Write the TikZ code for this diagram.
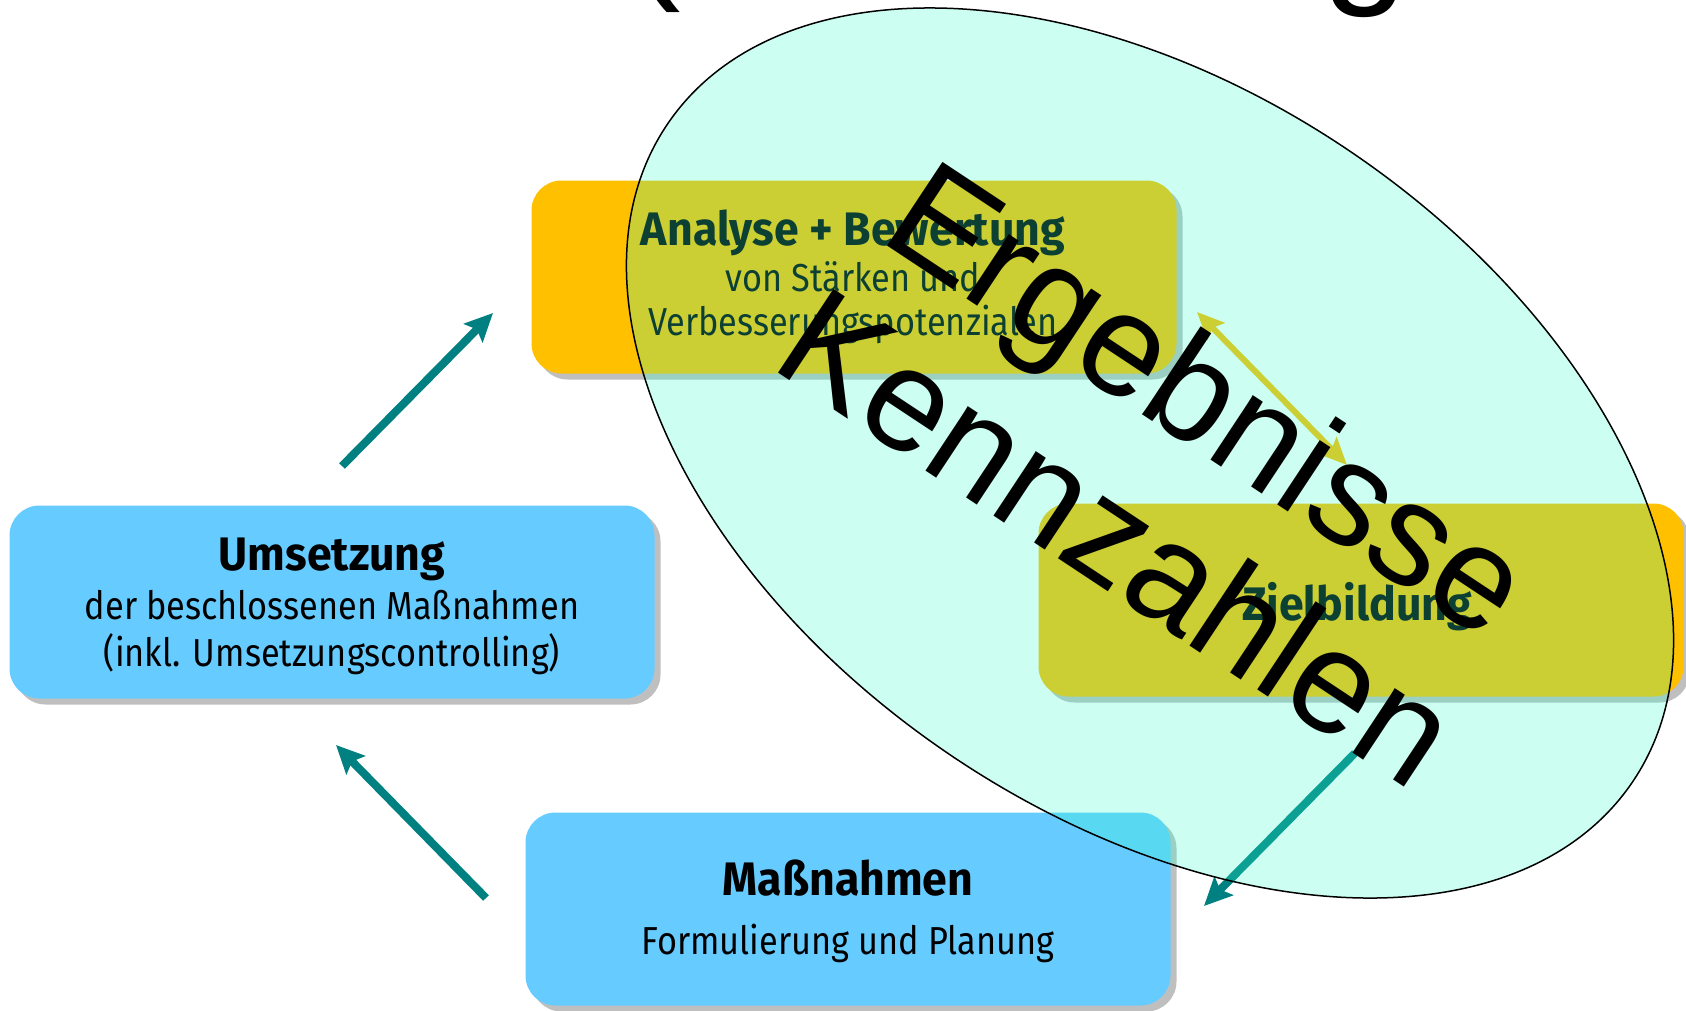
\documentclass[tikz,border=0pt]{standalone}
\usepackage{fontspec}
\setmainfont{Liberation Sans}
\newfontfamily\boxfont{Fira Sans}[FakeStretch=0.88]
\newfontfamily\boxbold{Fira Sans}[FakeStretch=0.95]
\usetikzlibrary{arrows.meta,shadows}
\definecolor{boxblue}{HTML}{66CCFF}
\definecolor{boxorange}{HTML}{FFC000}
\definecolor{arrowteal}{HTML}{008080}
\definecolor{ovalfill}{HTML}{33FFCC}
\definecolor{shadowgray}{HTML}{BFBFBF}
\tikzset{
  stepbox/.style={rectangle, rounded corners=30pt, minimum width=645pt, minimum height=193pt, inner sep=0pt,
    drop shadow={shadow xshift=6pt, shadow yshift=-6pt, fill=shadowgray, opacity=1}},
  bluebox/.style={stepbox, fill=boxblue},
  orangebox/.style={stepbox, fill=boxorange},
  headtext/.style={anchor=base, inner sep=0pt, font=\boxbold\bfseries\fontsize{47}{50}\selectfont},
  subtext/.style={anchor=base, inner sep=0pt, font=\boxfont\fontsize{39}{42}\selectfont},
  flowarrow/.style={draw=arrowteal, line width=8pt, -{Stealth[length=28pt,width=26pt,inset=5pt]}},
  linkarrow/.style={draw=boxorange, line width=6pt, {Stealth[length=27pt,width=24pt,inset=5pt]}-{Stealth[length=27pt,width=24pt,inset=5pt]}},
  titletext/.style={inner sep=0pt, font=\fontsize{155}{177}\selectfont},
  bigtext/.style={inner sep=0pt, font=\fontsize{146}{166}\selectfont}
}
\begin{document}
\begin{tikzpicture}[x=1pt,y=-1pt]
\useasboundingbox (0,0) rectangle (1686,1010);
% top fragments of a cut-off title
\node[titletext, anchor=base east] (frag1) at (681,-20) {(};
\node[titletext, anchor=base west] (frag2) at (1322,-15) {g};
% boxes
\node[orangebox] (analyse) at (854,277) {};
\node[bluebox] (umsetzung) at (332,602) {};
\node[orangebox] (ziel) at (1361,600) {};
\node[bluebox] (massnahmen) at (848,909) {};
% texts
\node[headtext] (t1) at (853,245) {Analyse + Bewertung};
\node[subtext] (t2) at (853,291) {von Stärken und};
\node[subtext] (t3) at (853,335) {Verbesserungspotenzialen};
\node[headtext] (t4) at (332,570) {Umsetzung};
\node[subtext] (t5) at (332,619) {der beschlossenen Maßnahmen};
\node[subtext] (t6) at (332,666) {(inkl. Umsetzungscontrolling)};
\node[headtext] (t7) at (1357,620) {Zielbildung};
\node[headtext] (t8) at (848,895) {Maßnahmen};
\node[subtext] (t9) at (848,954) {Formulierung und Planung};
% arrow end points
\coordinate (a1s) at (342,466); \coordinate (a1e) at (493,313);
\coordinate (a2s) at (486,898); \coordinate (a2e) at (336,745);
\coordinate (a3s) at (1355,753); \coordinate (a3e) at (1204,906);
\coordinate (a4s) at (1197,312); \coordinate (a4e) at (1347,465);
\draw[flowarrow] (a1s) -- (a1e);
\draw[flowarrow] (a2s) -- (a2e);
\draw[flowarrow] (a3s) -- (a3e);
\draw[linkarrow] (a4s) -- (a4e);
% oval
\draw[fill=ovalfill, fill opacity=0.25, draw=black, line width=1.5pt, shift={(1150,453)}, rotate=-34.4] (0,0) ellipse [x radius=584, y radius=362];
% rotated label
\node[bigtext, rotate=-33.5, align=center] (kz) at (1165,467) {Ergebnisse\\Kennzahlen};
\end{tikzpicture}
\end{document}
